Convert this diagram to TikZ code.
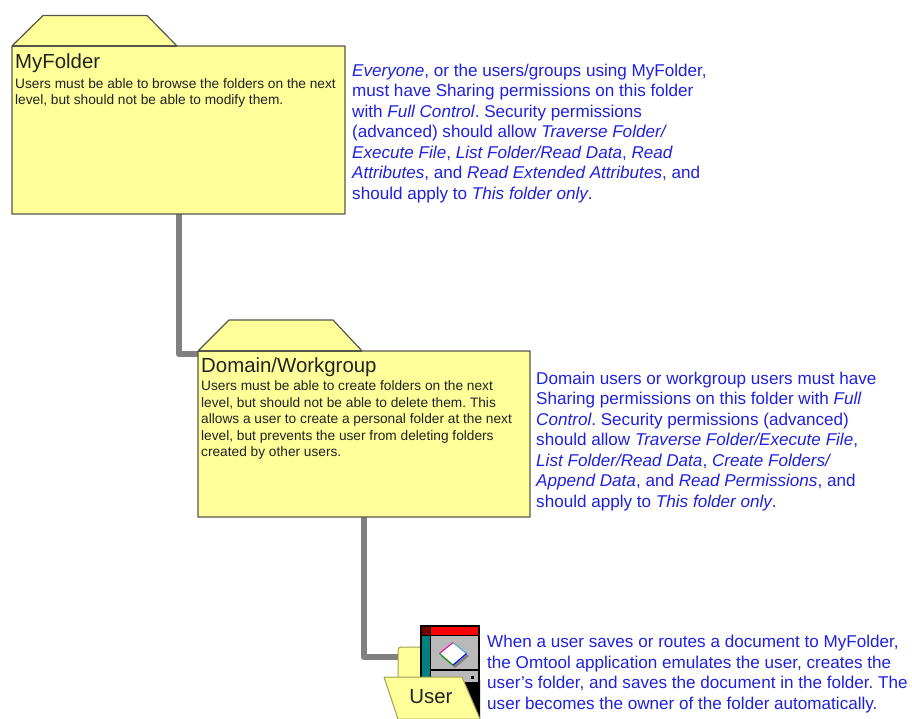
\documentclass[tikz,border=0pt]{standalone}
\usepackage{fontspec}
\setmainfont{Liberation Sans}
\frenchspacing
\definecolor{fold}{HTML}{FFFF99}
\definecolor{foldedge}{HTML}{55554A}
\definecolor{iconedge}{HTML}{A0A050}
\definecolor{conn}{HTML}{808080}
\definecolor{bluetxt}{HTML}{2020E0}
\definecolor{txt}{HTML}{222222}
\tikzset{
  x=1pt,y=-1pt,
  folder/.style={draw=foldedge,fill=fold,line width=1.2pt,line join=round},
  iconfolder/.style={draw=iconedge,fill=fold,line width=1pt,line join=round},
  connector/.style={draw=conn,line width=6.5pt,line join=round},
  title/.style={anchor=north west,inner sep=0pt,font=\fontsize{20.4}{23}\selectfont,text=txt},
  body/.style={anchor=north west,inner sep=0pt,align=left,font=\fontsize{13.7}{16.5}\selectfont,text=txt},
  note/.style={anchor=north west,inner sep=0pt,align=left,font=\fontsize{17.1}{20.5}\selectfont,text=bluetxt},
}
\begin{document}
\begin{tikzpicture}
\useasboundingbox (0,0) rectangle (912,719);
% connectors
\coordinate (c1) at (179,354);
\coordinate (c2) at (364,657);
\node[inner sep=0pt,minimum size=0pt] (fa) at (179,214) {};
\node[inner sep=0pt,minimum size=0pt] (fb) at (198,354) {};
\node[inner sep=0pt,minimum size=0pt] (fc) at (364,517) {};
\node[inner sep=0pt,minimum size=0pt] (fd) at (402,657) {};
\draw[connector] (fa.center) -- (c1) -- (fb.center);
\draw[connector] (fc.center) -- (c2) -- (fd.center);
% MyFolder
\draw[folder] (12,46) -- (43,15.5) -- (147,15.5) -- (177,46) -- (345,46) -- (345,214) -- (12,214) -- cycle;
\draw[foldedge,line width=1.2pt] (12,46) -- (177,46);
\node[title] (t1) at (15,54) {MyFolder};
\node[body] (b1) at (15,78) {Users must be able to browse the folders on the next\\level, but should not be able to modify them.};
\node[note] (n1) at (352,63.5) {\textit{Everyone}, or the users/groups using MyFolder,\\must have Sharing permissions on this folder\\with \textit{Full Control}. Security permissions\\(advanced) should allow \textit{Traverse Folder/}\\\textit{Execute File}, \textit{List Folder/Read Data}, \textit{Read}\\\textit{Attributes}, and \textit{Read Extended Attributes}, and\\should apply to \textit{This folder only}.};
% Domain/Workgroup
\draw[folder] (198,351) -- (229,320) -- (333,320) -- (362,351) -- (530,351) -- (530,517) -- (198,517) -- cycle;
\draw[foldedge,line width=1.2pt] (198,351) -- (362,351);
\node[title] (t2) at (201,358) {Domain/Workgroup};
\node[body] (b2) at (201,380.5) {Users must be able to create folders on the next\\level, but should not be able to delete them. This\\allows a user to create a personal folder at the next\\level, but prevents the user from deleting folders\\created by other users.};
\node[note] (n2) at (536,371.5) {Domain users or workgroup users must have\\Sharing permissions on this folder with \textit{Full}\\\textit{Control}. Security permissions (advanced)\\should allow \textit{Traverse Folder/Execute File},\\\textit{List Folder/Read Data}, \textit{Create Folders/}\\\textit{Append Data}, and \textit{Read Permissions}, and\\should apply to \textit{This folder only}.};
% User icon
\draw[iconfolder,rounded corners=3pt] (398,680) -- (398,647) -- (422,647) -- (422,680) -- cycle;
\fill[black] (420,625) rectangle (480,684);
\fill[black] (462,680) -- (480,680) -- (480,719) -- cycle;
\fill[gray!55] (431,636) rectangle (478,669);
\fill[red] (431,626.5) rectangle (478,634.5);
\fill[red!45!black] (421.5,626.5) rectangle (430,634.5);
\fill[teal] (421.5,636) rectangle (430,680);
\fill[gray!55] (431,671) rectangle (478,682);
\fill[black] (470.5,676) rectangle (473.5,679);
\fill[black!50] (455,645) -- (469,656) -- (455,668) -- (441,656) -- cycle;
\fill[white] (453,642.5) -- (466.5,653.5) -- (453,665) -- (439.5,653.5) -- cycle;
\draw[magenta,line width=1pt] (439.5,653.5) -- (453,642.5);
\draw[cyan!70!gray,line width=1pt] (453,642.5) -- (466.5,653.5);
\draw[blue,line width=1pt] (466.5,653.5) -- (453,665);
\draw[green!60!black,line width=1pt] (453,665) -- (439.5,653.5);
\draw[iconfolder] (384,677) -- (462,677) -- (480,719) -- (398,719) -- cycle;
\node[anchor=center,inner sep=0pt,font=\fontsize{20.4}{23}\selectfont,text=txt] (u) at (431,697) {User};
\node[note] (n3) at (487,635) {When a user saves or routes a document to MyFolder,\\the Omtool application emulates the user, creates the\\user's folder, and saves the document in the folder. The\\user becomes the owner of the folder automatically.};
\end{tikzpicture}
\end{document}
